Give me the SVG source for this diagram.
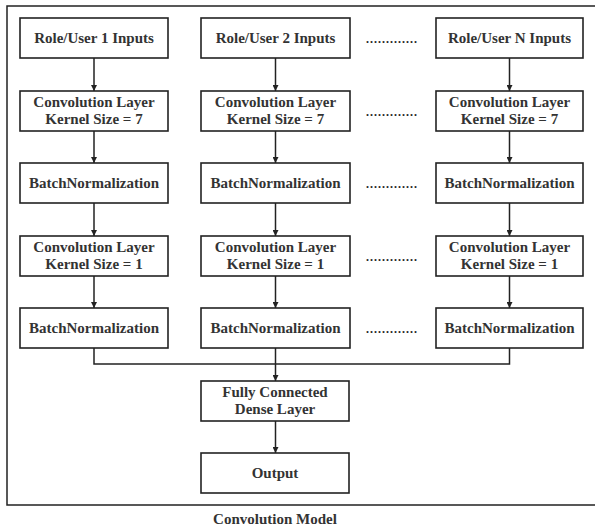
<svg xmlns="http://www.w3.org/2000/svg" width="595" height="530" viewBox="0 0 595 530">
  <style>
    .box { fill: #ffffff; stroke: #222222; stroke-width: 1.6; }
    .lbl { font-family: "Liberation Serif", "Times New Roman", serif; font-weight: bold; font-size: 15px; fill: #333333; text-anchor: middle; }
    .dots { font-family: "Liberation Serif", "Times New Roman", serif; font-weight: bold; font-size: 12px; fill: #222222; letter-spacing: 1px; text-anchor: middle; }
    .wire { fill: none; stroke: #222222; stroke-width: 1.5; }
    .frame { fill: none; stroke: #222222; stroke-width: 1.5; }
  </style>
  <defs>
    <marker id="arrow" viewBox="0 0 10 10" refX="10" refY="5" markerWidth="6" markerHeight="6" markerUnits="userSpaceOnUse" orient="auto">
      <path d="M0,0 L10,5 L0,10 Z" fill="#222222"/>
    </marker>
  </defs>

  <rect width="595" height="530" fill="#ffffff"/>
  <!-- outer frame, open on the right edge -->
  <path class="frame" d="M600,6 H7 V505 H600"/>

  <!-- column 1 -->
  <g id="in1"><rect class="box" x="20" y="18" width="148" height="40"/><text class="lbl" x="94" y="43">Role/User 1 Inputs</text></g>
  <g id="conv7_1"><rect class="box" x="20" y="91" width="148" height="40"/><text class="lbl" x="94" y="107">Convolution Layer</text><text class="lbl" x="94" y="124">Kernel Size = 7</text></g>
  <g id="bn1_1"><rect class="box" x="20" y="163" width="148" height="40"/><text class="lbl" x="94" y="188">BatchNormalization</text></g>
  <g id="conv1_1"><rect class="box" x="20" y="236" width="148" height="40"/><text class="lbl" x="94" y="252">Convolution Layer</text><text class="lbl" x="94" y="269">Kernel Size = 1</text></g>
  <g id="bn2_1"><rect class="box" x="20" y="308" width="148" height="40"/><text class="lbl" x="94" y="333">BatchNormalization</text></g>

  <!-- column 2 -->
  <g id="in2"><rect class="box" x="201" y="18" width="149" height="40"/><text class="lbl" x="275.5" y="43">Role/User 2 Inputs</text></g>
  <g id="conv7_2"><rect class="box" x="201" y="91" width="149" height="40"/><text class="lbl" x="275.5" y="107">Convolution Layer</text><text class="lbl" x="275.5" y="124">Kernel Size = 7</text></g>
  <g id="bn1_2"><rect class="box" x="201" y="163" width="149" height="40"/><text class="lbl" x="275.5" y="188">BatchNormalization</text></g>
  <g id="conv1_2"><rect class="box" x="201" y="236" width="149" height="40"/><text class="lbl" x="275.5" y="252">Convolution Layer</text><text class="lbl" x="275.5" y="269">Kernel Size = 1</text></g>
  <g id="bn2_2"><rect class="box" x="201" y="308" width="149" height="40"/><text class="lbl" x="275.5" y="333">BatchNormalization</text></g>

  <!-- column N -->
  <g id="inN"><rect class="box" x="436" y="18" width="147" height="40"/><text class="lbl" x="509.5" y="43">Role/User N Inputs</text></g>
  <g id="conv7_N"><rect class="box" x="436" y="91" width="147" height="40"/><text class="lbl" x="509.5" y="107">Convolution Layer</text><text class="lbl" x="509.5" y="124">Kernel Size = 7</text></g>
  <g id="bn1_N"><rect class="box" x="436" y="163" width="147" height="40"/><text class="lbl" x="509.5" y="188">BatchNormalization</text></g>
  <g id="conv1_N"><rect class="box" x="436" y="236" width="147" height="40"/><text class="lbl" x="509.5" y="252">Convolution Layer</text><text class="lbl" x="509.5" y="269">Kernel Size = 1</text></g>
  <g id="bn2_N"><rect class="box" x="436" y="308" width="147" height="40"/><text class="lbl" x="509.5" y="333">BatchNormalization</text></g>

  <!-- ellipses between column 2 and column N -->
  <g id="ellipses">
    <text class="dots" x="392" y="43">.............</text>
    <text class="dots" x="392" y="116">.............</text>
    <text class="dots" x="392" y="188">.............</text>
    <text class="dots" x="392" y="261">.............</text>
    <text class="dots" x="392" y="333">.............</text>
  </g>

  <!-- shared head -->
  <g id="dense"><rect class="box" x="201" y="381" width="148" height="40"/><text class="lbl" x="275" y="397">Fully Connected</text><text class="lbl" x="275" y="414">Dense Layer</text></g>
  <g id="output"><rect class="box" x="201" y="453" width="148" height="40"/><text class="lbl" x="275" y="478">Output</text></g>

  <g id="connectors">
    <path class="wire" d="M94,58 V91" marker-end="url(#arrow)"/>
    <path class="wire" d="M94,131 V163" marker-end="url(#arrow)"/>
    <path class="wire" d="M94,203 V236" marker-end="url(#arrow)"/>
    <path class="wire" d="M94,276 V308" marker-end="url(#arrow)"/>

    <path class="wire" d="M275.5,58 V91" marker-end="url(#arrow)"/>
    <path class="wire" d="M275.5,131 V163" marker-end="url(#arrow)"/>
    <path class="wire" d="M275.5,203 V236" marker-end="url(#arrow)"/>
    <path class="wire" d="M275.5,276 V308" marker-end="url(#arrow)"/>

    <path class="wire" d="M509.5,58 V91" marker-end="url(#arrow)"/>
    <path class="wire" d="M509.5,131 V163" marker-end="url(#arrow)"/>
    <path class="wire" d="M509.5,203 V236" marker-end="url(#arrow)"/>
    <path class="wire" d="M509.5,276 V308" marker-end="url(#arrow)"/>

    <!-- merge of all branches -->
    <path class="wire" d="M94,348 V364 H509.5 V348"/>
    <path class="wire" d="M275.5,348 V381" marker-end="url(#arrow)"/>
    <path class="wire" d="M275.5,421 V453" marker-end="url(#arrow)"/>
  </g>

  <text class="lbl" x="275" y="524">Convolution Model</text>
</svg>
